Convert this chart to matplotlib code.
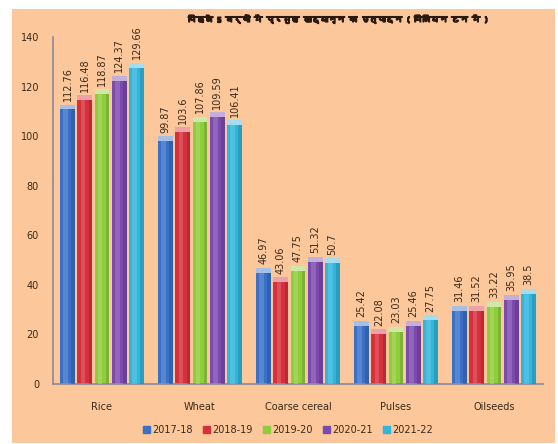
import numpy as np
import matplotlib
matplotlib.use("Agg")
import matplotlib.pyplot as plt
import matplotlib.patheffects as pe
from matplotlib import font_manager
from matplotlib.ft2font import FT2Font
from matplotlib.patches import Rectangle

categories = ["Rice", "Wheat", "Coarse cereal", "Pulses", "Oilseeds"]
years = ["2017-18", "2018-19", "2019-20", "2020-21", "2021-22"]
v_2017 = [112.76, 99.87, 46.97, 25.42, 31.46]
v_2018 = [116.48, 103.6, 43.06, 22.08, 31.52]
v_2019 = [118.87, 107.86, 47.75, 23.03, 33.22]
v_2020 = [124.37, 109.59, 51.32, 25.46, 35.95]
v_2021 = [129.66, 106.41, 50.7, 27.75, 38.5]
series = [v_2017, v_2018, v_2019, v_2020, v_2021]
labels = [
    ["112.76", "99.87", "46.97", "25.42", "31.46"],
    ["116.48", "103.6", "43.06", "22.08", "31.52"],
    ["118.87", "107.86", "47.75", "23.03", "33.22"],
    ["124.37", "109.59", "51.32", "25.46", "35.95"],
    ["129.66", "106.41", "50.7", "27.75", "38.5"],
]
title = "पिछले 5 वर्षों में प्रमुख खाद्यान्न का उत्पादन ( मिलियन टन में )"

colors = ["#3a70c6", "#d6303c", "#8fcd3c", "#7c4aad", "#30b5dd"]
bg = "#fcc79a"
txt = "#3a2a1a"


def devanagari_font():
    # find any installed font that can draw Devanagari
    for f in sorted(font_manager.findSystemFonts()):
        try:
            ft = FT2Font(f)
            if ft.get_char_index(ord("प")) and ft.get_char_index(ord("्")):
                return font_manager.FontProperties(fname=f).get_name()
        except Exception:
            pass
    return None


hfont = devanagari_font()

fig = plt.figure(figsize=(5.58, 4.44), dpi=100)
fig.patch.set_facecolor("white")
bgax = fig.add_axes([12 / 558, 1 / 444, 543 / 558, 434 / 444], zorder=0)
bgax.set_facecolor(bg)
bgax.set_xticks([])
bgax.set_yticks([])
for s in bgax.spines.values():
    s.set_visible(False)

ax = fig.add_axes([53 / 558, 60 / 444, 490 / 558, 347 / 444], zorder=2)
ax.set_facecolor("none")

x = np.arange(len(categories))
w = 0.176
bw = w * 0.86
for i, vals in enumerate(series):
    pos = x + (i - 2) * w
    base = np.array(matplotlib.colors.to_rgb(colors[i]))
    ax.bar(pos, vals, width=bw, color=colors[i], edgecolor="none", zorder=2)
    # lighter highlight strip and darker edge for a cylinder look
    light = np.clip(base + (1 - base) * 0.35, 0, 1)
    dark = base * 0.75
    ax.bar(pos - bw * 0.12, vals, width=bw * 0.3, color=light, alpha=0.45,
           edgecolor="none", zorder=3)
    ax.bar(pos + bw * 0.38, vals, width=bw * 0.24, color=dark, alpha=0.5,
           edgecolor="none", zorder=3)
    cap = np.clip(base + (1 - base) * 0.55, 0, 1)
    ax.bar(pos, [2.0] * len(vals), bottom=np.array(vals) - 2.0, width=bw,
           color=cap, edgecolor="none", zorder=4)
    for p, v, lab in zip(pos, vals, labels[i]):
        ax.text(p, v + 1.5, lab, rotation=90, ha="center", va="bottom",
                fontsize=7, color=txt, zorder=5)

ax.set_xlim(-0.5, len(categories) - 0.5)
ax.set_ylim(0, 140)
ax.set_yticks(range(0, 141, 20))
ax.set_xticks(x)
ax.set_xticklabels(categories)
ax.tick_params(axis="both", labelsize=7, colors=txt, length=0, pad=10)
ax.tick_params(axis="x", pad=13)
for s in ["top", "right"]:
    ax.spines[s].set_visible(False)
for s in ["left", "bottom"]:
    ax.spines[s].set_color("#8a8a9a")
    ax.spines[s].set_linewidth(1.2)

handles = [Rectangle((0, 0), 1, 1, color=c) for c in colors]
fig.legend(handles, years, loc="center", bbox_to_anchor=(288 / 558, 14 / 444),
           ncol=5, frameon=False, fontsize=7, handlelength=0.7, handleheight=0.7,
           handletextpad=0.2, columnspacing=1.1, labelcolor=txt)

t = fig.text(339 / 558, 1 - 19 / 444, title, ha="center", va="center", fontsize=9,
             fontweight="bold", color="#2a1a10",
             family=[hfont, "DejaVu Sans"] if hfont else "DejaVu Sans",
             path_effects=[pe.withStroke(linewidth=1.1, foreground="#2a1a10")])
# fit the title to the width it has in the original (~300 px)
fig.canvas.draw()
tw = t.get_window_extent().width
t.set_fontsize(9 * 300 / tw)

fig.savefig("out.png", dpi=100, facecolor=fig.get_facecolor())
